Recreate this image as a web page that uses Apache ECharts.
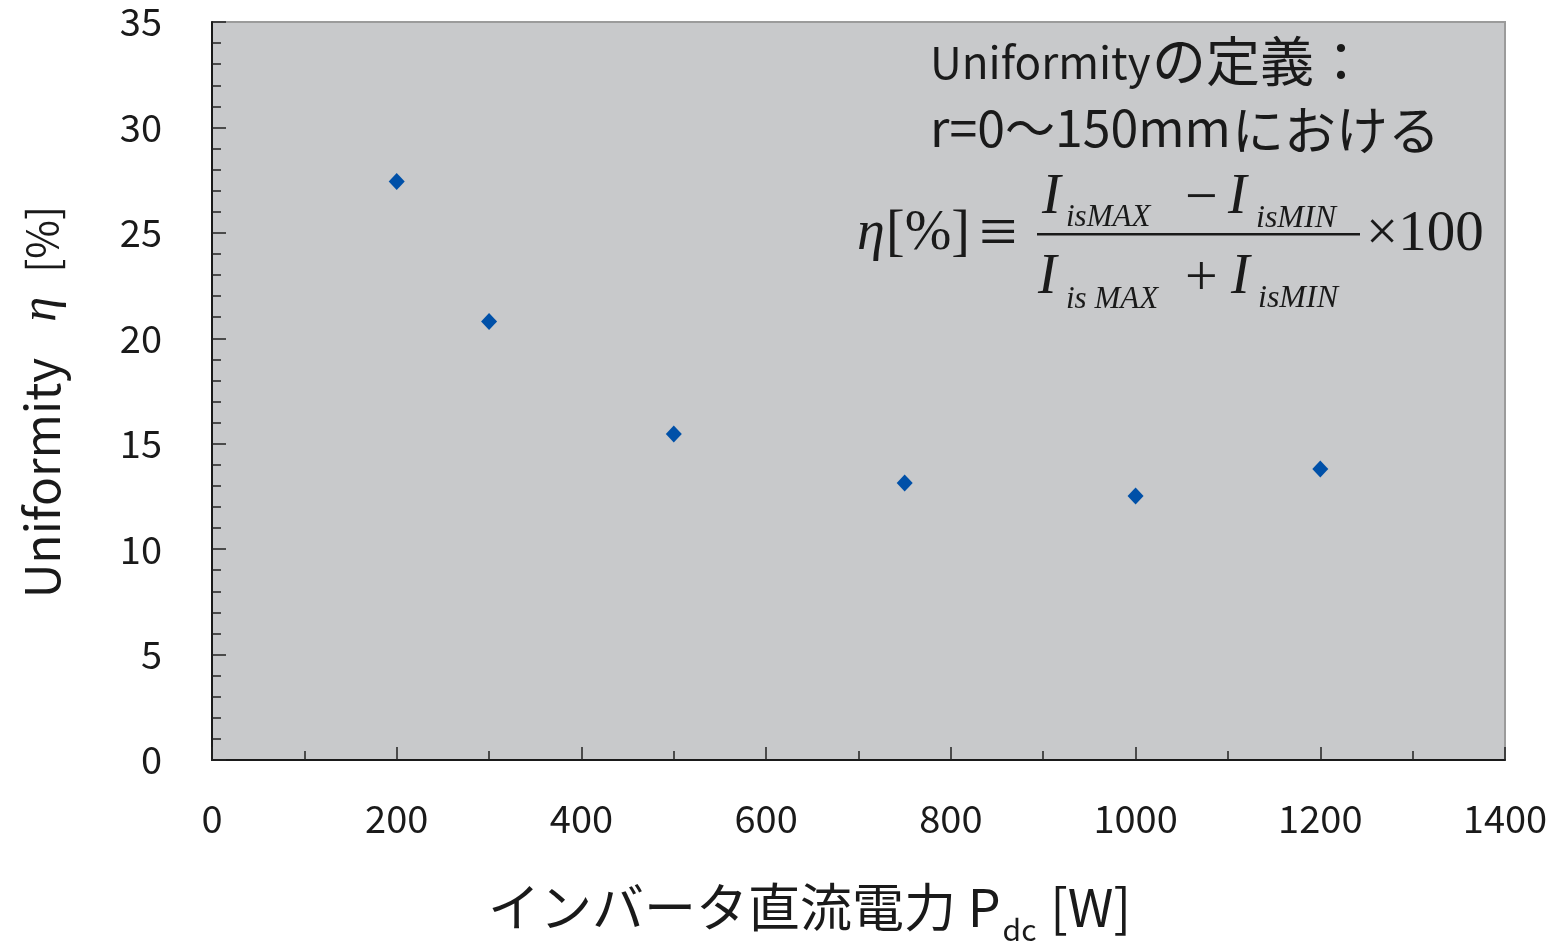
<!DOCTYPE html>
<html>
<head>
<meta charset="utf-8">
<script src="https://cdn.jsdelivr.net/npm/echarts@6/dist/echarts.min.js"></script>
<style>html,body{margin:0;padding:0;background:#fff;overflow:hidden}#c{width:1556px;height:941px}</style>
</head>
<body>
<div id="c"></div>
<script>
// Data
const powerW = [200, 300, 500, 750, 1000, 1200];
const uniformity = [27.43, 20.80, 15.46, 13.14, 12.52, 13.80];
const xTicks = [0, 200, 400, 600, 800, 1000, 1200, 1400];
const yTicks = [0, 5, 10, 15, 20, 25, 30, 35];

const sans = "'Noto Sans CJK JP','Noto Sans',sans-serif";
const serif = "'Liberation Serif','DejaVu Serif',serif";

const chart = echarts.init(document.getElementById('c'));

// place text by its baseline (top-aligned text, shifted by ascent ratio)
function txt(x, baseline, text, size, italic, family) {
  const fam = family || serif;
  const k = fam === sans ? 0.87 : 0.77;
  return {
    type: 'text', x: x, y: baseline - k * size, z: 10,
    style: {
      text: text, fontSize: size, fontFamily: fam,
      fontStyle: italic ? 'italic' : 'normal',
      fill: '#1a1a1a'
    }
  };
}

const option = {
  backgroundColor: '#ffffff',
  animation: false,
  grid: {
    left: 212, top: 22, right: 51, bottom: 181,
    containLabel: false, outerBoundsMode: 'none',
    show: true, backgroundColor: '#c8c9cb', borderColor: '#9b9b9b', borderWidth: 2
  },
  xAxis: {
    type: 'value', min: xTicks[0], max: xTicks[xTicks.length - 1], interval: 200,
    axisLine: { show: true, onZero: false, lineStyle: { color: '#1a1a1a', width: 2 } },
    axisTick: { show: true, inside: true, length: 13, lineStyle: { color: '#222', width: 1.5 } },
    minorTick: { show: true, splitNumber: 2, length: 9, lineStyle: { color: '#222', width: 1.5 } },
    splitLine: { show: false },
    axisLabel: { margin: 40, fontSize: 38, color: '#1a1a1a', fontFamily: sans, formatter: v => String(v) },
    name: '{a|インバータ直流電力 P}{s|dc}{a| [W]}',
    nameLocation: 'middle', nameGap: 121,
    nameTextStyle: {
      padding: [0, 98, 0, 0],
      rich: {
        a: { fontSize: 52, fontFamily: sans, color: '#1a1a1a', lineHeight: 58, verticalAlign: 'top' },
        s: { fontSize: 30, fontFamily: sans, color: '#1a1a1a', lineHeight: 30, padding: [34, 2, 0, 2], verticalAlign: 'top' }
      }
    }
  },
  yAxis: {
    type: 'value', min: yTicks[0], max: yTicks[yTicks.length - 1], interval: 5,
    axisLine: { show: true, onZero: false, lineStyle: { color: '#1a1a1a', width: 2 } },
    axisTick: { show: true, inside: true, length: 14, lineStyle: { color: '#222', width: 1.5 } },
    minorTick: { show: true, splitNumber: 5, length: 9, lineStyle: { color: '#222', width: 1.5 } },
    splitLine: { show: false },
    axisLabel: { margin: 50, fontSize: 38, color: '#1a1a1a', fontFamily: sans },
    name: '{a|Uniformity}{e|η}{b|[%]}',
    nameLocation: 'middle', nameGap: 145, nameRotate: 90,
    nameTextStyle: {
      padding: [0, 22, 0, 0],
      rich: {
        a: { fontSize: 48, fontFamily: sans, color: '#1a1a1a' },
        b: { fontSize: 42, fontFamily: sans, color: '#1a1a1a' },
        e: { fontSize: 50, fontFamily: serif, fontStyle: 'italic', color: '#1a1a1a', padding: [0, 24, 0, 36] }
      }
    }
  },
  series: [{
    type: 'scatter',
    data: powerW.map((p, i) => [p, uniformity[i]]),
    symbol: 'diamond', symbolSize: [16, 17],
    itemStyle: { color: '#0050a8', opacity: 1 }
  }],
  graphic: [
    txt(930, 79, 'Uniformity', 44, false, sans),
    txt(1152, 81, 'の定義：', 54, false, sans),
    txt(930, 147, 'r=0～150mm', 50, false, sans),
    txt(1232, 149, 'における', 52, false, sans),
    txt(857, 249, 'η', 56, true),
    txt(886, 249, '[%]', 56, false),
    txt(979, 255, '≡', 68, false),
    // numerator
    txt(1042, 213, 'I', 56, true),
    txt(1066, 226, 'isMAX', 31, true),
    txt(1185, 215, '−', 58, false),
    txt(1228, 213, 'I', 56, true),
    txt(1256, 227, 'isMIN', 32, true),
    // fraction line
    { type: 'rect', z: 10, shape: { x: 1037, y: 233, width: 323, height: 2.5 }, style: { fill: '#1a1a1a' } },
    // denominator
    txt(1038, 293, 'I', 56, true),
    txt(1066, 308, 'is MAX', 31, true),
    txt(1185, 295, '+', 58, false),
    txt(1231, 293, 'I', 56, true),
    txt(1258, 307, 'isMIN', 32, true),
    txt(1366, 250, '×100', 57, false)
  ]
};
chart.setOption(option);
</script>
</body>
</html>
